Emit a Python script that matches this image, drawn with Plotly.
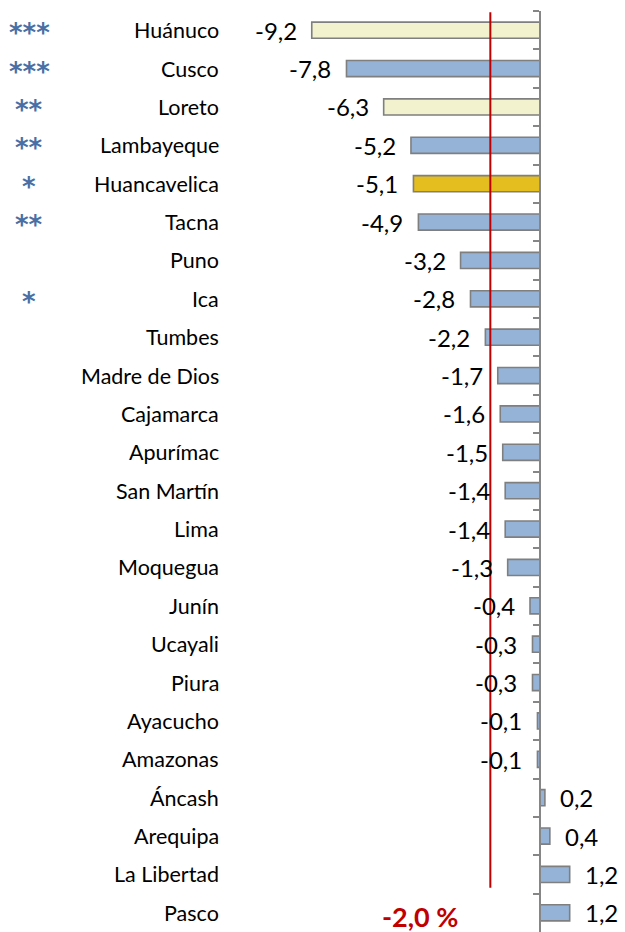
import plotly.graph_objects as go

regions = ["Huánuco", "Cusco", "Loreto", "Lambayeque", "Huancavelica", "Tacna", "Puno", "Ica",
           "Tumbes", "Madre de Dios", "Cajamarca", "Apurímac", "San Martín", "Lima", "Moquegua",
           "Junín", "Ucayali", "Piura", "Ayacucho", "Amazonas", "Áncash", "Arequipa",
           "La Libertad", "Pasco"]
values = [-9.2, -7.8, -6.3, -5.2, -5.1, -4.9, -3.2, -2.8, -2.2, -1.7, -1.6, -1.5, -1.4, -1.4,
          -1.3, -0.4, -0.3, -0.3, -0.1, -0.1, 0.2, 0.4, 1.2, 1.2]
stars = ["***", "***", "**", "**", "*", "**", "", "*", "", "", "", "", "", "", "", "", "", "",
         "", "", "", "", "", ""]
national = -2.0
national_label = "-2,0 %"

BLUE = "#95B3D7"
PALE = "#F2F2CF"
GOLD = "#E4BD1F"
colors = []
for r in regions:
    if r in ("Huánuco", "Loreto"):
        colors.append(PALE)
    elif r == "Huancavelica":
        colors.append(GOLD)
    else:
        colors.append(BLUE)

FONT = "Lato, 'Open Sans', sans-serif"

fig = go.Figure()
fig.add_trace(go.Bar(
    x=values, y=regions, orientation="h",
    marker=dict(color=colors, line=dict(color="#7F7F7F", width=1.6)),
    hoverinfo="skip",
))

def fmt(v):
    return f"{v:.1f}".replace(".", ",")

annotations = []
for r, v, s in zip(regions, values, stars):
    annotations.append(dict(
        x=v, y=r, xref="x", yref="y", text=fmt(v), showarrow=False,
        xanchor="right" if v < 0 else "left", xshift=-13 if v < 0 else 13,
        font=dict(family=FONT, size=24, color="#000000"),
    ))
    annotations.append(dict(
        x=-12.94, y=r, xref="x", yref="y", text=r, showarrow=False,
        xanchor="right", xshift=2, font=dict(family=FONT, size=21.5, color="#000000"),
    ))
    if s:
        annotations.append(dict(
            x=-20.6, y=r, xref="x", yref="y", text=f"<b>{s}</b>", showarrow=False,
            xanchor="center", yshift=-3,
            font=dict(family="'DejaVu Sans', sans-serif", size=26, color="#4A6FA5"),
        ))

annotations.append(dict(
    x=national, y=regions[-1], xref="x", yref="y", text=f"<b>{national_label}</b>",
    showarrow=False, xanchor="center", xshift=-70, yshift=-4,
    font=dict(family=FONT, size=27, color="#C00000"),
))

fig.add_shape(type="line", xref="x", yref="y", x0=national, x1=national,
              y0=-0.47, y1=22.35, line=dict(color="#C00000", width=2))

fig.update_layout(
    width=625, height=932,
    margin=dict(l=0, r=0, t=11, b=0),
    paper_bgcolor="white", plot_bgcolor="white",
    showlegend=False,
    bargap=0.58,
    annotations=annotations,
    xaxis=dict(range=[-21.77, 3.43], visible=False, fixedrange=True),
    yaxis=dict(
        type="category", autorange=False, range=[23.5, -0.5],
        anchor="free", position=540 / 625,
        showline=True, linecolor="#868686", linewidth=1.5,
        ticks="outside", ticklen=6, tickcolor="#868686", tickwidth=1.5,
        tickson="boundaries", showticklabels=False, showgrid=False,
        zeroline=False, fixedrange=True,
    ),
)

fig.write_html("out.html", config={"displayModeBar": False},
               post_script="document.body.style.margin='0';document.body.style.overflow='hidden';")
